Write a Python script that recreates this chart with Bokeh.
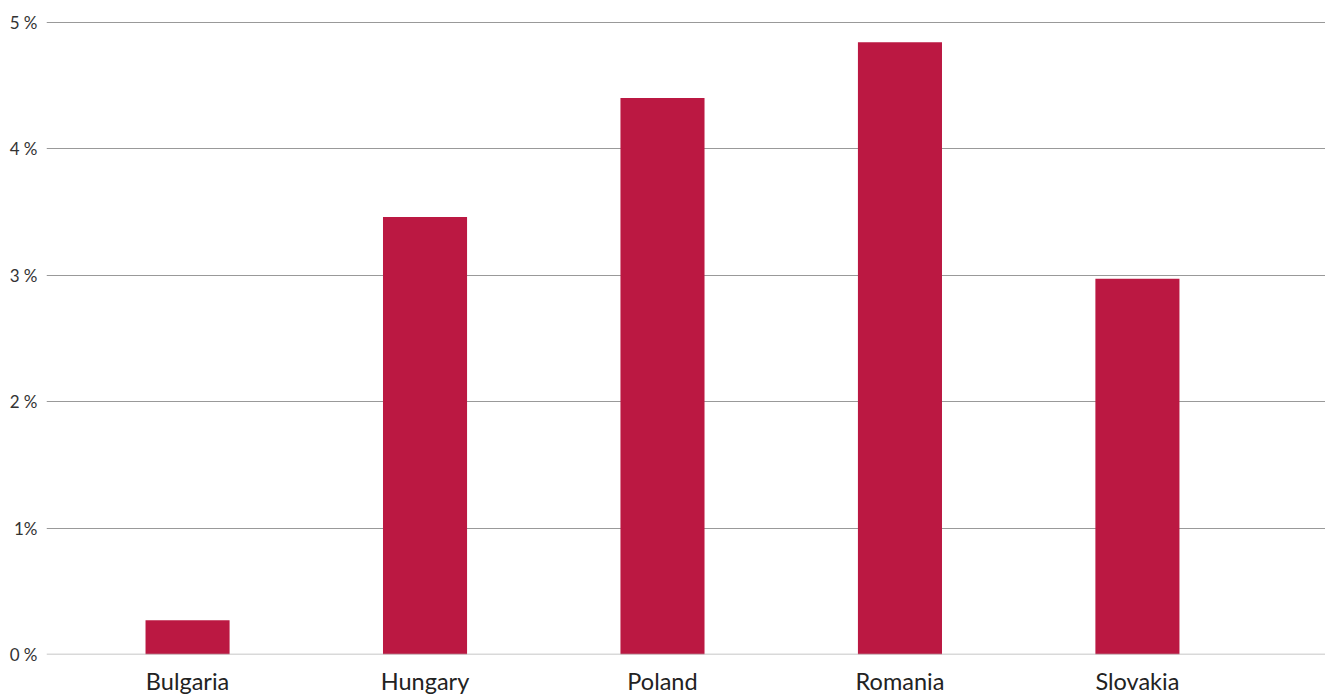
from bokeh.plotting import figure
from bokeh.models import FixedTicker, Range1d, Span, ColumnDataSource
from bokeh.embed import file_html
from bokeh.resources import INLINE

categories = ["Bulgaria", "Hungary", "Poland", "Romania", "Slovakia"]
values = [0.27, 3.46, 4.40, 4.84, 2.97]
y_ticks = [0, 1, 2, 3, 4, 5]
y_tick_labels = ["0 %", "1%", "2 %", "3 %", "4 %", "5 %"]

x_pos = list(range(len(categories)))
src = ColumnDataSource(data=dict(x=x_pos, top=values, name=categories))

p = figure(width=1325, height=697, output_backend="svg", toolbar_location=None,
           x_range=Range1d(-0.594, 4.792), y_range=Range1d(0, 5.005),
           min_border_top=21, min_border_left=46, min_border_right=0, min_border_bottom=40)

p.vbar(x="x", top="top", bottom=0, width=0.354, source=src, color="#BB1842", line_color=None)

p.outline_line_color = None
p.xgrid.grid_line_color = None
p.ygrid.grid_line_color = "#999999"
p.ygrid.grid_line_width = 1

zero = Span(location=0, dimension="width", line_color="#b3b3b3", line_width=1.5)
p.add_layout(zero)

p.yaxis.ticker = FixedTicker(ticks=y_ticks)
p.yaxis.major_label_overrides = {t: l for t, l in zip(y_ticks, y_tick_labels)}
p.yaxis.axis_line_color = None
p.yaxis.major_tick_line_color = None
p.yaxis.minor_tick_line_color = None
p.yaxis.major_tick_out = 0
p.yaxis.major_label_text_font = "Lato"
p.yaxis.major_label_text_font_size = "17px"
p.yaxis.major_label_text_color = "#333333"
p.yaxis.major_label_standoff = 9

p.xaxis.ticker = FixedTicker(ticks=x_pos)
p.xaxis.major_label_overrides = {i: c for i, c in zip(x_pos, categories)}
p.xaxis.axis_line_color = None
p.xaxis.major_tick_line_color = None
p.xaxis.minor_tick_line_color = None
p.xaxis.major_tick_out = 0
p.xaxis.major_label_text_font = "Lato"
p.xaxis.major_label_text_font_size = "23.5px"
p.xaxis.major_label_text_color = "#222222"
p.xaxis.major_label_standoff = 12

open("out.html", "w").write(file_html(p, INLINE))
